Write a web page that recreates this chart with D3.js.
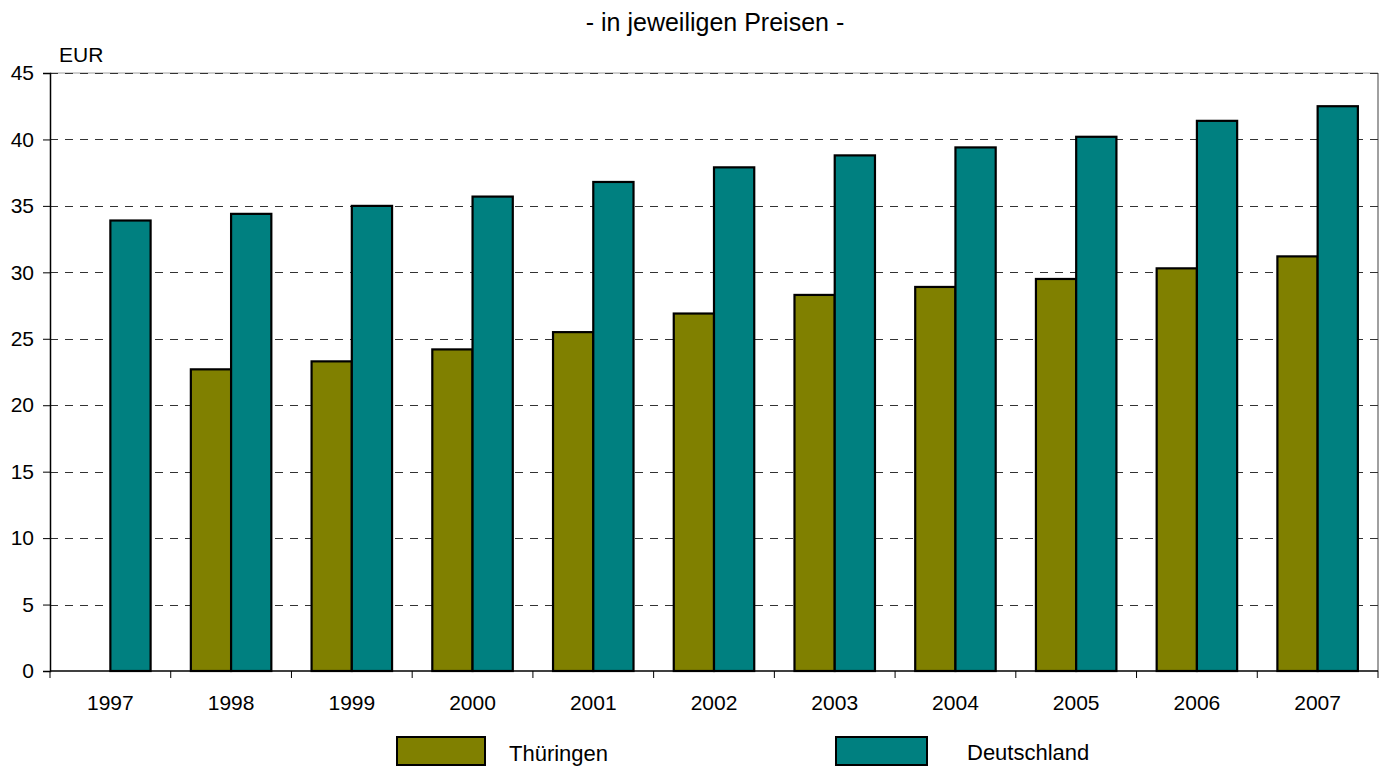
<!DOCTYPE html>
<html>
<head>
<meta charset="utf-8">
<script src="https://cdn.jsdelivr.net/npm/d3@7"></script>
<style>
  html, body { margin: 0; padding: 0; background: #fff; }
  svg { display: block; font-family: "Liberation Sans", Arial, sans-serif; }
</style>
</head>
<body>
<svg id="chart" width="1385" height="767"></svg>
<script>
// ---- data ----
const years = ["1997","1998","1999","2000","2001","2002","2003","2004","2005","2006","2007"];
const thueringen = [null, 22.7, 23.3, 24.2, 25.5, 26.9, 28.3, 28.9, 29.5, 30.3, 31.2];
const deutschland = [33.9, 34.4, 35.0, 35.7, 36.8, 37.9, 38.8, 39.4, 40.2, 41.4, 42.5];
const yTicks = [0, 5, 10, 15, 20, 25, 30, 35, 40, 45];
const seriesNames = ["Thüringen", "Deutschland"];
const seriesColors = ["#808000", "#008080"];
const titleText = "- in jeweiligen Preisen -";
const unitText = "EUR";

// ---- layout ----
const plot = { left: 50, right: 1378, top: 73, bottom: 671 };
const svg = d3.select("#chart");

const x = d3.scaleBand().domain(years).range([plot.left, plot.right]).padding(0);
const bw = x.bandwidth();
const xs = d3.scaleBand().domain(seriesNames).range([bw / 6, bw * 5 / 6]).padding(0);
const y = d3.scaleLinear().domain([0, 45]).range([plot.bottom, plot.top]);

// title
svg.append("text")
  .attr("x", 715).attr("y", 31)
  .attr("text-anchor", "middle")
  .attr("font-size", 25)
  .attr("fill", "#000")
  .text(titleText);

// unit
svg.append("text")
  .attr("x", 59).attr("y", 62)
  .attr("font-size", 21)
  .attr("fill", "#000")
  .text(unitText);

// plot border (top/right gray)
svg.append("line")
  .attr("x1", plot.right).attr("x2", plot.right)
  .attr("y1", plot.top).attr("y2", plot.bottom)
  .attr("stroke", "#808080").attr("stroke-width", 1.5);
svg.append("line")
  .attr("x1", plot.left).attr("x2", plot.right)
  .attr("y1", plot.top).attr("y2", plot.top)
  .attr("stroke", "#a0a0a0").attr("stroke-width", 1);

// gridlines
svg.append("g")
  .selectAll("line")
  .data(yTicks.filter(d => d > 0))
  .join("line")
  .attr("x1", plot.left).attr("x2", plot.right)
  .attr("y1", d => Math.round(y(d)) + 0.5).attr("y2", d => Math.round(y(d)) + 0.5)
  .attr("stroke", "#333").attr("stroke-width", 1)
  .attr("stroke-dasharray", "8,7");

// bars
const rows = years.map((yr, i) => ({ year: yr, values: [thueringen[i], deutschland[i]] }));
const groups = svg.append("g").selectAll("g")
  .data(rows)
  .join("g")
  .attr("transform", d => `translate(${x(d.year)},0)`);

groups.selectAll("rect")
  .data(d => d.values.map((v, j) => ({ name: seriesNames[j], value: v, color: seriesColors[j] })).filter(e => e.value != null))
  .join("rect")
  .attr("x", d => xs(d.name))
  .attr("width", xs.bandwidth())
  .attr("y", d => y(d.value))
  .attr("height", d => y(0) - y(d.value))
  .attr("fill", d => d.color)
  .attr("stroke", "#000")
  .attr("stroke-width", 2.2);

// y axis
const yAxis = d3.axisLeft(y).tickValues(yTicks).tickSize(7).tickPadding(9).tickFormat(d3.format("d"));
const gy = svg.append("g")
  .attr("transform", `translate(${plot.left},0)`)
  .call(yAxis);
gy.select(".domain").attr("stroke", "#000").attr("stroke-width", 1.5);
gy.selectAll(".tick line").attr("stroke", "#000");
gy.selectAll(".tick text").attr("font-size", 21).attr("fill", "#000")
  .attr("font-family", "Liberation Sans, Arial, sans-serif");

// x axis (ticks at band boundaries)
const gx = svg.append("g")
  .attr("transform", `translate(0,${plot.bottom})`);
gx.append("line")
  .attr("x1", plot.left).attr("x2", plot.right)
  .attr("y1", 0).attr("y2", 0)
  .attr("stroke", "#000").attr("stroke-width", 1.5);
const boundaries = years.map(d => x(d)).concat([x(years[years.length - 1]) + bw]);
gx.selectAll("line.tk")
  .data(boundaries)
  .join("line")
  .attr("class", "tk")
  .attr("x1", d => d).attr("x2", d => d)
  .attr("y1", 0).attr("y2", 7)
  .attr("stroke", "#000").attr("stroke-width", 1);
gx.selectAll("text")
  .data(years)
  .join("text")
  .attr("x", d => x(d) + bw / 2)
  .attr("y", 39)
  .attr("text-anchor", "middle")
  .attr("font-size", 21)
  .attr("fill", "#000")
  .text(d => d);

// legend
const legendItems = [
  { name: seriesNames[0], color: seriesColors[0], rx: 397, rw: 88, tx: 509, ty: 761 },
  { name: seriesNames[1], color: seriesColors[1], rx: 836, rw: 91, tx: 967, ty: 760 }
];
const lg = svg.append("g");
legendItems.forEach(it => {
  lg.append("rect")
    .attr("x", it.rx).attr("y", 737)
    .attr("width", it.rw).attr("height", 28)
    .attr("fill", it.color)
    .attr("stroke", "#000").attr("stroke-width", 2);
  lg.append("text")
    .attr("x", it.tx).attr("y", it.ty)
    .attr("font-size", 22)
    .attr("fill", "#000")
    .text(it.name);
});
</script>
</body>
</html>
